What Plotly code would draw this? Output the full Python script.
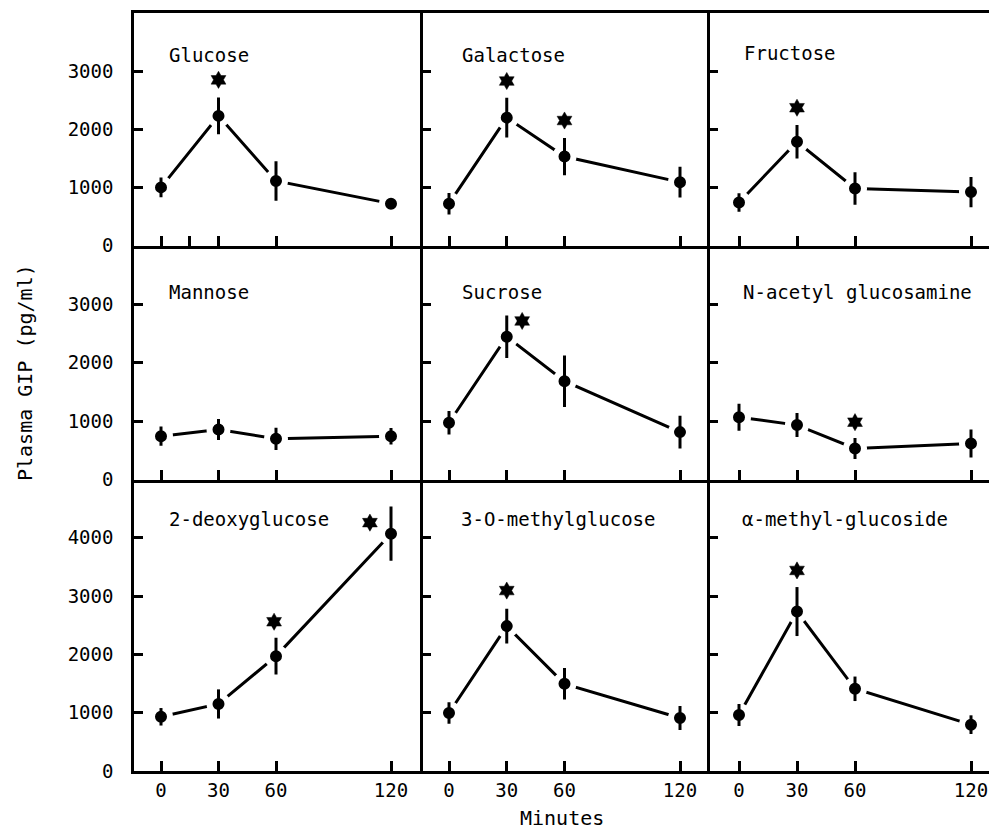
import plotly.graph_objects as go

minutes = [0, 30, 60, 120]

panel_names = ["Glucose", "Galactose", "Fructose",
               "Mannose", "Sucrose", "N-acetyl glucosamine",
               "2-deoxyglucose", "3-O-methylglucose", "α-methyl-glucoside"]

glucose_mean = [1000, 2230, 1110, 720]
glucose_err = [170, 315, 340, 50]
galactose_mean = [720, 2200, 1530, 1090]
galactose_err = [185, 340, 320, 265]
fructose_mean = [740, 1785, 980, 920]
fructose_err = [160, 290, 280, 260]
mannose_mean = [740, 855, 695, 740]
mannose_err = [165, 180, 190, 140]
sucrose_mean = [970, 2440, 1680, 810]
sucrose_err = [200, 365, 440, 280]
nacetyl_mean = [1065, 930, 530, 615]
nacetyl_err = [230, 205, 180, 240]
deoxy_mean = [930, 1150, 1970, 4070]
deoxy_err = [150, 250, 315, 465]
omethyl_mean = [995, 2485, 1495, 910]
omethyl_err = [185, 300, 270, 205]
amethyl_mean = [960, 2735, 1410, 795]
amethyl_err = [190, 420, 210, 160]

means = [glucose_mean, galactose_mean, fructose_mean,
         mannose_mean, sucrose_mean, nacetyl_mean,
         deoxy_mean, omethyl_mean, amethyl_mean]
errs = [glucose_err, galactose_err, fructose_err,
        mannose_err, sucrose_err, nacetyl_err,
        deoxy_err, omethyl_err, amethyl_err]

# significance stars (minutes, value) per panel
star_x = [[30], [30, 60], [30], [], [38], [60], [59, 109], [30], [30]]
star_y = [[2850], [2830, 2150], [2370], [], [2710], [980], [2560, 4260], [3095], [3440]]

row_ticks = [[0, 1000, 2000, 3000], [0, 1000, 2000, 3000], [0, 1000, 2000, 3000, 4000]]
row_ranges = [[0, 4000], [0, 4000], [0, 5000]]
x_tickvals = [0, 30, 60, 120]
x_tickvals_first = [0, 15, 30, 60, 120]

# ---- geometry (pixels) ----
W, H = 989, 830
ML, MR, MT, MB = 133, 0, 12, 58
PW, PH = W - ML - MR, H - MT - MB


def px_x(p):
    return (p - ML) / PW


def px_y(p):
    return (H - MB - p) / PH


col_px = [(134, 422.5), (422.5, 709.5), (709.5, 989)]
col_zero = [(161, 391), (449, 680), (739, 971)]
row_px = [(13, 245.5), (245.5, 479.5), (479.5, 771)]

FONT = "DejaVu Sans Mono"
LW = 2.5

fig = go.Figure()
layout = dict(width=W, height=H, margin=dict(l=ML, r=MR, t=MT, b=MB),
              paper_bgcolor="white", plot_bgcolor="white", showlegend=False,
              font=dict(family=FONT, color="black", size=18))
annotations = []

title_px = [(167, 55), (460, 55), (742, 53),
            (167, 292), (460, 292), (741, 292),
            (167, 519), (459, 519), (740, 519)]

for i in range(9):
    r, c = divmod(i, 3)
    n = "" if i == 0 else str(i + 1)
    xa, ya = "x" + n, "y" + n
    x0p, x1p = col_px[c]
    z0, z120 = col_zero[c]
    s = (z120 - z0) / 120.0
    xr = [(x0p - z0) / s, (x1p - z0) / s]
    top, bot = row_px[r]

    fig.add_trace(go.Scatter(x=minutes, y=means[i], mode="lines",
                             line=dict(color="black", width=3),
                             xaxis=xa, yaxis=ya, hoverinfo="skip"))
    fig.add_trace(go.Scatter(x=minutes, y=means[i], mode="markers",
                             marker=dict(color="black", size=18,
                                         line=dict(color="white", width=6)),
                             xaxis=xa, yaxis=ya))
    fig.add_trace(go.Scatter(x=minutes, y=means[i], mode="markers",
                             marker=dict(color="rgba(0,0,0,0)", size=1),
                             error_y=dict(type="data", array=errs[i], visible=True,
                                          color="black", thickness=3, width=0),
                             xaxis=xa, yaxis=ya))
    if star_x[i]:
        fig.add_trace(go.Scatter(x=star_x[i], y=star_y[i], mode="markers",
                                 marker=dict(symbol="hexagram", color="black", size=13,
                                             line=dict(color="black", width=0.5)),
                                 xaxis=xa, yaxis=ya))

    layout["xaxis" + n] = dict(
        domain=[px_x(x0p), px_x(x1p)], range=xr, anchor=ya,
        showline=True, linecolor="black", linewidth=LW, mirror=(r == 0),
        ticks="inside", ticklen=10, tickwidth=LW, tickcolor="black",
        tickvals=x_tickvals_first if i == 0 else x_tickvals,
        ticktext=["0", "", "30", "60", "120"] if i == 0 else ["0", "30", "60", "120"],
        showticklabels=(r == 2), ticklabelstandoff=0,
        showgrid=False, zeroline=False, fixedrange=True,
        tickfont=dict(family=FONT, size=19, color="black"))
    layout["yaxis" + n] = dict(
        domain=[px_y(bot), px_y(top)], range=row_ranges[r], anchor=xa,
        showline=True, linecolor="black", linewidth=LW, mirror=False,
        ticks="inside", ticklen=9, tickwidth=LW, tickcolor="black",
        tickvals=row_ticks[r], showticklabels=(c == 0), ticklabelstandoff=14,
        showgrid=False, zeroline=False, fixedrange=True,
        tickfont=dict(family=FONT, size=19, color="black"))

    tx, ty = title_px[i]
    annotations.append(dict(text=panel_names[i], xref="paper", yref="paper",
                            x=px_x(tx), y=px_y(ty), xanchor="left", yanchor="middle",
                            showarrow=False, font=dict(family=FONT, size=19, color="black")))

annotations.append(dict(text="Minutes", xref="paper", yref="paper",
                        x=px_x(562), y=px_y(818), xanchor="center", yanchor="middle",
                        showarrow=False, font=dict(family=FONT, size=20, color="black")))
annotations.append(dict(text="Plasma GIP (pg/ml)", xref="paper", yref="paper",
                        x=px_x(25), y=px_y(373), xanchor="center", yanchor="middle",
                        textangle=-90, showarrow=False,
                        font=dict(family=FONT, size=20, color="black")))
layout["annotations"] = annotations

fig.update_layout(**layout)
fig.write_html("out.html", config={"displayModeBar": False},
               post_script="document.body.style.margin='0';document.body.style.overflow='hidden';")
